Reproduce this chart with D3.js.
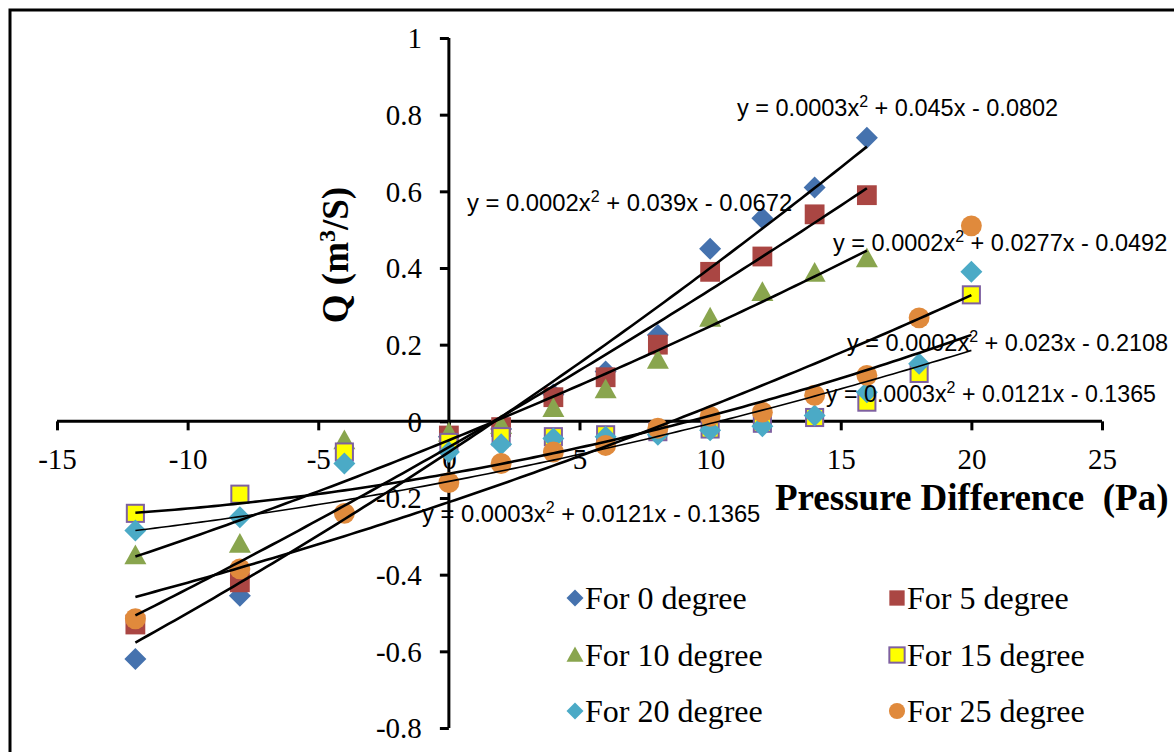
<!DOCTYPE html>
<html><head><meta charset="utf-8">
<script src="https://cdn.jsdelivr.net/npm/d3@7"></script>
<style>body{margin:0;background:#fff}svg{display:block}</style>
</head><body>
<svg id="c" width="1174" height="752"></svg>
<script>
// ---- data ----
const seriesNames = ["For 0 degree","For 5 degree","For 10 degree","For 15 degree","For 20 degree","For 25 degree"];
const x0 = [-12,-8,0,2,4,6,8,10,12,14,16];
const y0 = [-0.62,-0.455,-0.04,-0.02,0.07,0.13,0.225,0.45,0.53,0.61,0.74];
const x5 = [-12,-8,0,2,4,6,8,10,12,14,16];
const y5 = [-0.53,-0.42,-0.037,-0.015,0.063,0.115,0.2,0.39,0.43,0.54,0.59];
const x10 = [-12,-8,-4,0,2,4,6,8,10,12,14,16];
const y10 = [-0.35,-0.32,-0.05,-0.03,-0.01,0.034,0.083,0.16,0.27,0.337,0.387,0.425];
const x15 = [-12,-8,-4,0,2,4,6,8,10,12,14,16,18,20];
const y15 = [-0.24,-0.19,-0.08,-0.055,-0.04,-0.04,-0.035,-0.027,-0.02,-0.005,0.01,0.05,0.125,0.33];
const x20 = [-12,-8,-4,0,2,4,6,8,10,12,14,16,18,20];
const y20 = [-0.285,-0.25,-0.11,-0.08,-0.06,-0.045,-0.04,-0.035,-0.023,-0.013,0.015,0.076,0.15,0.39];
const x25 = [-12,-8,-4,0,2,4,6,8,10,12,14,16,18,20];
const y25 = [-0.515,-0.385,-0.24,-0.16,-0.11,-0.08,-0.063,-0.018,0.013,0.024,0.068,0.12,0.27,0.51];
// trendline coefficients [a,b,c] for y = a x^2 + b x + c, and x extent
const trendCoef = [[0.0003,0.045,-0.0802],[0.0002,0.039,-0.0672],[0.0002,0.0277,-0.0492],[0.0003,0.0121,-0.1365],[0.0002,0.01309,-0.1567],[0.0002,0.023,-0.2108]];
const trendExtent = [[-12,16],[-12,16],[-12,16],[-12,20],[-12,20],[-12,20]];
const eqLabels = ["y = 0.0003x|2| + 0.045x - 0.0802","y = 0.0002x|2| + 0.039x - 0.0672","y = 0.0002x|2| + 0.0277x - 0.0492","y = 0.0002x|2| + 0.023x - 0.2108","y = 0.0003x|2| + 0.0121x - 0.1365","y = 0.0003x|2| + 0.0121x - 0.1365"];
const xTicks = [-15,-10,-5,0,5,10,15,20,25];
const yTicks = [-0.8,-0.6,-0.4,-0.2,0,0.2,0.4,0.6,0.8,1];

const xsAll = [x0,x5,x10,x15,x20,x25];
const ysAll = [y0,y5,y10,y15,y20,y25];
const fills = ["#4572AE","#AA4643","#89A54E","#FFFF00","#4BAAC6","#E08A3C"];
const strokes = [null,null,null,"#7E60A0",null,null];
const shapes = ["diamond","square","triangle","square","diamond","circle"];

const svg = d3.select("#c");
svg.append("rect").attr("x",10).attr("y",10).attr("width",1200).attr("height",800)
  .attr("fill","none").attr("stroke","#000").attr("stroke-width",3);

const x = d3.scaleLinear().domain([-15,25]).range([57,1102]);
const y = d3.scaleLinear().domain([-0.8,1]).range([728,38]);

function marker(g, shape, size){
  const s=size;
  if(shape==="diamond") return g.append("path").attr("d",`M0,${-s}L${s},0L0,${s}L${-s},0Z`);
  if(shape==="square") return g.append("rect").attr("x",-s*0.9).attr("y",-s*0.9).attr("width",s*1.8).attr("height",s*1.8);
  if(shape==="triangle") return g.append("path").attr("d",`M0,${-s}L${s},${s*0.8}L${-s},${s*0.8}Z`);
  return g.append("circle").attr("r",s*0.95);
}

// axes
const xAxis = d3.axisBottom(x).tickValues(xTicks).tickSize(9).tickFormat(d=>String(d));
const gx = svg.append("g").attr("transform",`translate(0,${y(0)})`).call(xAxis);
gx.select(".domain").attr("stroke","#000").attr("stroke-width",3).attr("d",`M${x(-15)},0H${x(25)}`);
gx.selectAll(".tick line").attr("stroke","#000").attr("stroke-width",3);
gx.selectAll(".tick text").attr("font-family","'Liberation Serif',serif").attr("font-size",29).attr("fill","#000").attr("y",26).attr("dy","0.75em");

const yAxis = d3.axisLeft(y).tickValues(yTicks).tickSize(9).tickFormat(d=>String(+d.toFixed(1)));
const gy = svg.append("g").attr("transform",`translate(${x(0)},0)`).call(yAxis);
gy.select(".domain").attr("stroke","#000").attr("stroke-width",3).attr("d",`M0,${y(1)}V${y(-0.8)}`);
gy.selectAll(".tick line").attr("stroke","#000").attr("stroke-width",3);
gy.selectAll(".tick text").attr("font-family","'Liberation Serif',serif").attr("font-size",29).attr("fill","#000").attr("x",-27).attr("dy","0.34em");

// points
ysAll.forEach((ys,i)=>{
  const g = svg.append("g");
  ys.forEach((v,j)=>{
    const m = marker(g.append("g").attr("transform",`translate(${x(xsAll[i][j])},${y(v)})`), shapes[i], i===3?9.5:11);
    m.attr("fill",fills[i]);
    if(strokes[i]) m.attr("stroke",strokes[i]).attr("stroke-width",2);
  });
});

// trendlines
trendCoef.forEach((c,i)=>{
  const [a,b] = trendExtent[i];
  const pts = d3.range(a,b+0.001,0.25).map(t=>[t,c[0]*t*t+c[1]*t+c[2]]);
  svg.append("path").attr("d",d3.line().x(d=>x(d[0])).y(d=>y(d[1]))(pts))
    .attr("fill","none").attr("stroke","#000").attr("stroke-width",i===4?1.6:2.6);
});

// equation labels
const eqPos = [[737,116],[467,211],[833,251],[847,351],[826,402],[422,522]];
const eqSize = [23.5,23.8,23.5,23.5,23.2,23.8];
eqLabels.forEach((s,i)=>{
  const parts = s.split("|");
  const t = svg.append("text").attr("x",eqPos[i][0]).attr("y",eqPos[i][1])
    .attr("font-family","'Liberation Sans',Arial,sans-serif").attr("font-size",eqSize[i]).attr("fill","#000");
  t.append("tspan").text(parts[0]);
  t.append("tspan").text(parts[1]).attr("font-size",16).attr("dy",-9);
  t.append("tspan").text(parts[2]).attr("dy",9);
});

// axis titles
svg.append("text").attr("x",775).attr("y",510).attr("font-family","'Liberation Serif',serif")
  .attr("font-weight","bold").attr("font-size",37).attr("fill","#000").attr("xml:space","preserve")
  .text("Pressure Difference  (Pa)");
const yt = svg.append("text").attr("transform","translate(348,255) rotate(-90)").attr("text-anchor","middle")
  .attr("font-family","'Liberation Serif',serif").attr("font-weight","bold").attr("font-size",37).attr("fill","#000");
yt.append("tspan").text("Q (m");
yt.append("tspan").text("3").attr("font-size",24).attr("dy",-13);
yt.append("tspan").text("/S)").attr("dy",13);

// legend
const legX = [575,897], legY = [598,655,711];
seriesNames.forEach((n,i)=>{
  const cx = legX[i%2], cy = legY[Math.floor(i/2)];
  const m = marker(svg.append("g").attr("transform",`translate(${cx},${cy})`), shapes[i], 8.5);
  m.attr("fill",fills[i]);
  if(strokes[i]) m.attr("stroke",strokes[i]).attr("stroke-width",2);
  svg.append("text").attr("x",cx+10).attr("y",cy+11).attr("font-family","'Liberation Serif',serif")
    .attr("font-size",32).attr("fill","#000").text(n);
});
</script>
</body></html>
